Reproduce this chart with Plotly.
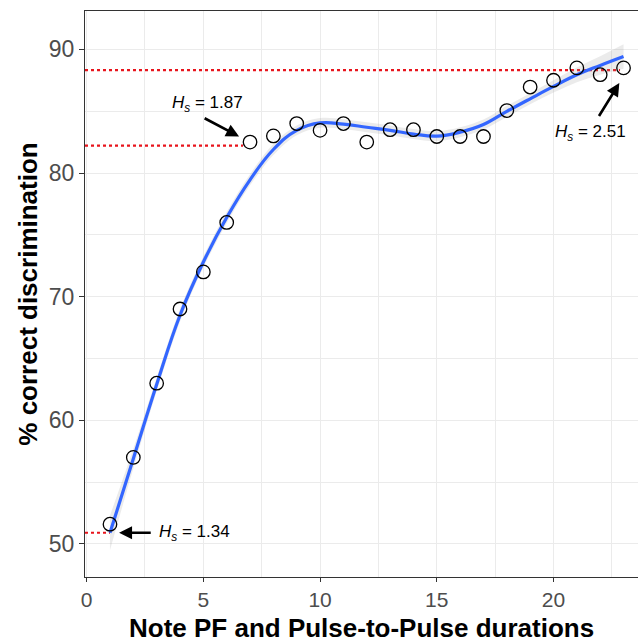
import plotly.graph_objects as go

# ---- data ----
x_vals = list(range(1, 24))
pct_correct = [51.6, 57.0, 63.0, 69.0, 72.0, 76.0, 82.5, 83.0, 84.0, 83.45, 84.0, 82.5,
               83.5, 83.5, 82.95, 82.95, 82.95, 85.05, 86.95, 87.5, 88.5, 87.95, 88.5]

smooth_fit = [50.9, 56.9, 62.9, 68.5, 72.8, 76.4, 79.45, 81.9, 83.45, 84.05, 83.95, 83.7,
              83.45, 83.15, 82.98, 83.3, 83.92, 84.98, 86.0, 87.0, 87.94, 88.7, 89.42]
smooth_lower = [49.5, 56.1, 62.35, 68.0, 72.35, 75.95, 79.0, 81.45, 83.05, 83.65, 83.55, 83.3,
                83.05, 82.75, 82.58, 82.9, 83.52, 84.53, 85.55, 86.5, 87.34, 87.95, 88.42]
smooth_upper = [52.3, 57.7, 63.45, 69.0, 73.25, 76.85, 79.9, 82.35, 83.85, 84.45, 84.35, 84.1,
                83.85, 83.55, 83.38, 83.7, 84.32, 85.43, 86.45, 87.5, 88.54, 89.45, 90.42]

# reference (dotted) lines: level and end x
ref_levels = [50.91, 82.22, 88.32]
ref_ends = [1.0, 6.7, 22.85]

# annotations: label, text centre (x, y), arrow tail (x, y), arrow tip (x, y)
hs_labels = ["1.34", "1.87", "2.51"]
text_pos = [(4.63, 50.91), (5.18, 85.54), (21.58, 83.2)]
arrow_tail = [(2.81, 50.91), (4.99, 84.49), (21.91, 84.49)]
arrow_tip = [(1.39, 50.91), (6.53, 82.95), (22.82, 87.27)]

x_range = [-0.07, 23.62]
y_range = [47.33, 93.1]
x_ticks = [0, 5, 10, 15, 20]
y_ticks = [50, 60, 70, 80, 90]

FONT = "Liberation Sans, Arial, sans-serif"

fig = go.Figure()

# red dotted reference lines
for lvl, xe in zip(ref_levels, ref_ends):
    fig.add_trace(go.Scatter(x=[x_range[0], xe], y=[lvl, lvl], mode="lines",
                             line=dict(color="#e8141c", width=2.2, dash="dot"),
                             hoverinfo="skip", showlegend=False))

# confidence ribbon
fig.add_trace(go.Scatter(x=x_vals, y=smooth_lower, mode="lines",
                         line=dict(width=0, shape="spline"), showlegend=False, hoverinfo="skip"))
fig.add_trace(go.Scatter(x=x_vals, y=smooth_upper, mode="lines", fill="tonexty",
                         fillcolor="rgba(153,153,153,0.2)",
                         line=dict(width=0, shape="spline"), showlegend=False, hoverinfo="skip"))

# smooth curve
fig.add_trace(go.Scatter(x=x_vals, y=smooth_fit, mode="lines",
                         line=dict(color="#3366FF", width=3.2, shape="spline", smoothing=1.2),
                         showlegend=False))

# points
fig.add_trace(go.Scatter(x=x_vals, y=pct_correct, mode="markers",
                         marker=dict(symbol="circle-open", size=13.5, color="black",
                                     line=dict(width=1.3, color="black")),
                         showlegend=False))

annotations = []
for lab, (tx, ty), (ax_, ay_), (px, py) in zip(hs_labels, text_pos, arrow_tail, arrow_tip):
    annotations.append(dict(x=tx, y=ty, xref="x", yref="y", showarrow=False,
                            text="<i>H<sub>s</sub></i> = " + lab,
                            font=dict(family=FONT, size=17, color="black")))
    annotations.append(dict(x=px, y=py, ax=ax_, ay=ay_, xref="x", yref="y",
                            axref="x", ayref="y", text="", showarrow=True,
                            arrowhead=2, arrowsize=1.0, arrowwidth=2.6,
                            arrowcolor="black", standoff=0, startstandoff=0))

# x-axis title placed as paper-anchored text for exact vertical position
annotations.append(dict(x=0.5, y=-51 / 566, xref="paper", yref="paper", showarrow=False,
                        yanchor="middle", xanchor="center",
                        text="<b>Note PF and Pulse-to-Pulse durations</b>",
                        font=dict(family=FONT, size=26, color="black")))

fig.update_layout(
    width=638, height=642,
    margin=dict(l=85, r=0, t=11, b=65),
    paper_bgcolor="white", plot_bgcolor="white",
    annotations=annotations,
    font=dict(family=FONT),
)

fig.update_xaxes(
    range=x_range, tickvals=x_ticks, ticks="outside", ticklen=4, tickwidth=1.1,
    tickcolor="#333333", showline=True, linecolor="#333333", linewidth=1.1, mirror=True,
    showgrid=True, gridcolor="#ebebeb", gridwidth=1, zeroline=False, automargin=False,
    minor=dict(tickvals=[2.5, 7.5, 12.5, 17.5, 22.5], showgrid=True, gridcolor="#ebebeb",
               gridwidth=0.8, ticks=""),
    tickfont=dict(family=FONT, size=21, color="#4d4d4d"),
)
fig.update_yaxes(
    range=y_range, tickvals=y_ticks, ticks="outside", ticklen=5, tickwidth=1.1,
    tickcolor="#333333", showline=True, linecolor="#333333", linewidth=1.1, mirror=False,
    showgrid=True, gridcolor="#ebebeb", gridwidth=1, zeroline=False, automargin=False,
    minor=dict(tickvals=[55, 65, 75, 85], showgrid=True, gridcolor="#ebebeb",
               gridwidth=0.8, ticks=""),
    tickfont=dict(family=FONT, size=23, color="#4d4d4d"),
    title=dict(text="<b>% correct discrimination</b>",
               font=dict(family=FONT, size=26, color="black"), standoff=3),
)

# remove the default page margin so the figure sits at the window's corner
fig.write_html("out.html", config={"displayModeBar": False},
               post_script="document.body.style.margin='0';document.body.style.overflow='hidden';")
